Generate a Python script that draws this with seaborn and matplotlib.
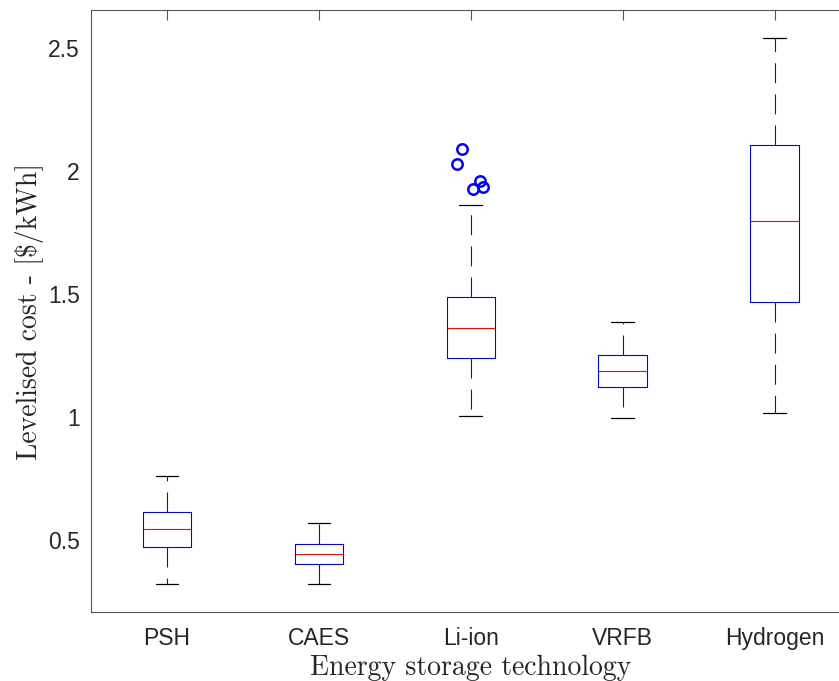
import numpy as np
import matplotlib
matplotlib.use("Agg")
import matplotlib.pyplot as plt
import seaborn as sns

# box statistics
techs = ['PSH', 'CAES', 'Li-ion', 'VRFB', 'Hydrogen']
whis_lo = [0.321, 0.322, 1.005, 0.997, 1.015]
q1 = [0.470, 0.402, 1.240, 1.123, 1.469]
median = [0.545, 0.442, 1.363, 1.188, 1.798]
q3 = [0.615, 0.484, 1.489, 1.252, 2.107]
whis_hi = [0.760, 0.568, 1.862, 1.385, 2.542]

# Li-ion outliers (with the horizontal jitter seen in the figure)
li_outliers = [2.088, 2.027, 1.926, 1.957, 1.936]
li_jitter = [-0.061, -0.092, 0.015, 0.059, 0.077]

sns.set_style('white')
plt.rcParams['font.family'] = ['Liberation Sans', 'DejaVu Sans']

fig = plt.figure(figsize=(8.39, 6.81), dpi=100)
ax = fig.add_axes([91 / 839, 1 - 612 / 681, (850.7 - 91) / 839, (612 - 10) / 681])

stats = []
for i, t in enumerate(techs):
    stats.append(dict(label=t, med=median[i], q1=q1[i], q3=q3[i],
                      whislo=whis_lo[i], whishi=whis_hi[i], fliers=[]))

pos = np.arange(1, len(techs) + 1)
ax.bxp(stats, positions=pos, widths=0.32, showfliers=False,
       boxprops=dict(color='blue', linewidth=0.8),
       medianprops=dict(color='red', linewidth=0.8),
       whiskerprops=dict(color='#222222', linewidth=0.8, linestyle=(0, (18, 10))),
       capprops=dict(color='black', linewidth=0.9),
       capwidths=0.15)

li_x = pos[techs.index('Li-ion')] + np.array(li_jitter)
ax.plot(li_x, li_outliers, 'o', mfc='none', mec='blue', ms=7.5, mew=1.8, ls='none')

ax.set_xlim(0.5, 5.5)
ax.set_ylim(0.207, 2.654)
ax.set_yticks([0.5, 1, 1.5, 2, 2.5])
ax.set_yticklabels(['0.5', '1', '1.5', '2', '2.5'])
ax.set_xticks(pos)
ax.set_xticklabels(techs)

for s in ax.spines.values():
    s.set_color('#555555')
    s.set_linewidth(0.8)
ax.tick_params(direction='in', length=7, width=0.8, color='#555555',
               top=True, right=True, labelsize=16.5, labelcolor='#262626')
ax.tick_params(axis='x', pad=11)
ax.tick_params(axis='y', pad=8)

ax.set_xlabel('Energy storage technology', fontfamily='cmr10', fontsize=20, labelpad=3)
ax.set_ylabel('Levelised cost - [\\$/kWh]', fontfamily='cmr10', fontsize=20, labelpad=3)

fig.savefig('out.png', dpi=100)
